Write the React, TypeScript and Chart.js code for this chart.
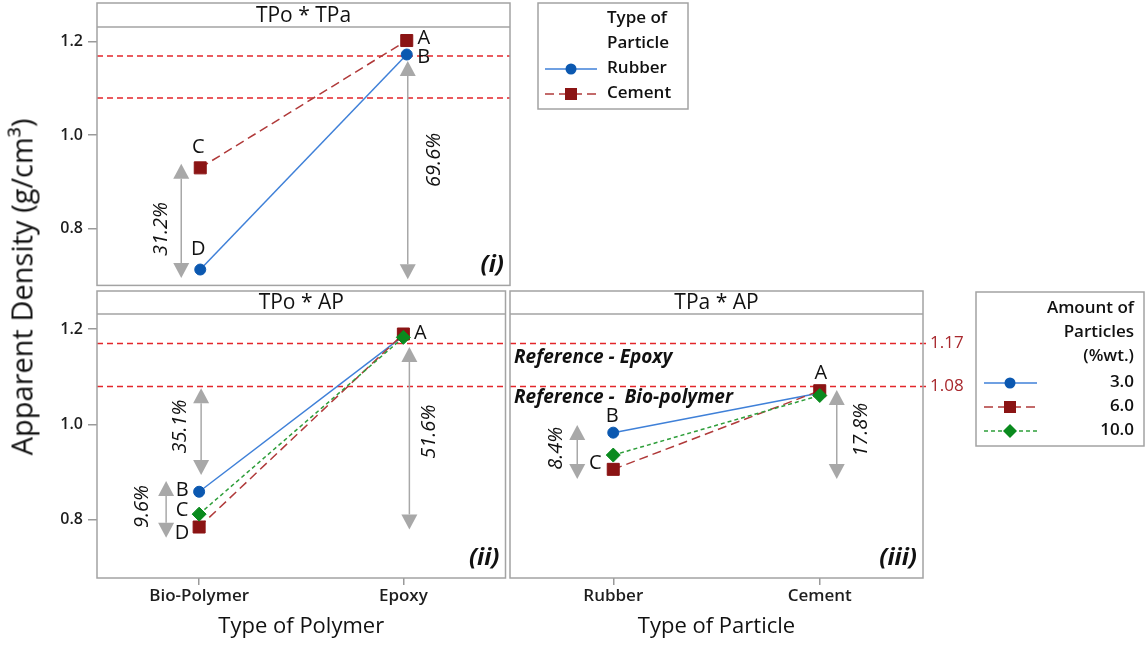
import React, { useEffect, useRef } from 'react';
import { Chart, registerables } from 'chart.js';

Chart.register(...registerables);

// ---------- data ----------
const polymerTypes = ['Bio-Polymer', 'Epoxy'];
const particleTypes = ['Rubber', 'Cement'];
const particleSeriesNames = ['Rubber', 'Cement'];
const amountSeriesNames = ['3.0', '6.0', '10.0'];

const rubberByPolymer = [0.712, 1.173];
const cementByPolymer = [0.930, 1.203];

const amount3ByPolymer = [0.859, 1.186];
const amount6ByPolymer = [0.785, 1.190];
const amount10ByPolymer = [0.812, 1.183];

const amount3ByParticle = [0.983, 1.066];
const amount6ByParticle = [0.906, 1.071];
const amount10ByParticle = [0.936, 1.061];

const referenceValues = [1.17, 1.08];
const referenceTickLabels = ['1.17', '1.08'];
const referenceNames = ['Reference - Epoxy', 'Reference -  Bio-polymer'];
const referenceNameValues = [1.141, 1.056];

const yTickValues = [0.8, 1.0, 1.2];
const yRange = [0.678, 1.232];

const panelTitles = ['TPo * TPa', 'TPo * AP', 'TPa * AP'];
const panelTags = ['(i)', '(ii)', '(iii)'];
const axisTitles = ['Type of Polymer', 'Type of Particle'];
const yAxisTitle = 'Apparent Density (g/cm³)';
const legendTitles1 = ['Type of', 'Particle'];
const legendTitles2 = ['Amount of', 'Particles', '(%wt.)'];

// annotations (category index, value range, label text)
const panel1Arrows = [
  { cat: 0, dx: -19, from: 0.939, to: 0.694, text: '31.2%', tdx: -39, ty: 0.799 },
  { cat: 1, dx: 1, from: 1.159, to: 0.691, text: '69.6%', tdx: 28, ty: 0.947 },
];
const panel1Letters = [
  { cat: 1, dx: 17, y: 1.208, text: 'A' },
  { cat: 1, dx: 17, y: 1.166, text: 'B' },
  { cat: 0, dx: -2, y: 0.975, text: 'C' },
  { cat: 0, dx: -2, y: 0.756, text: 'D' },
];
const panel2Arrows = [
  { cat: 0, dx: 2, from: 1.076, to: 0.894, text: '35.1%', tdx: -19, ty: 0.996 },
  { cat: 0, dx: -33, from: 0.8815, to: 0.7625, text: '9.6%', tdx: -57, ty: 0.828 },
  { cat: 1, dx: 6, from: 1.163, to: 0.780, text: '51.6%', tdx: 26, ty: 0.985 },
];
const panel2Letters = [
  { cat: 0, dx: -17, y: 0.863, text: 'B' },
  { cat: 0, dx: -17, y: 0.821, text: 'C' },
  { cat: 0, dx: -17, y: 0.772, text: 'D' },
  { cat: 1, dx: 17, y: 1.192, text: 'A' },
];
const panel3Arrows = [
  { cat: 0, dx: -36, from: 0.999, to: 0.886, text: '8.4%', tdx: -57, ty: 0.950 },
  { cat: 1, dx: 17, from: 1.0725, to: 0.886, text: '17.8%', tdx: 42, ty: 0.989 },
];
const panel3Letters = [
  { cat: 0, dx: -1, y: 1.0165, text: 'B' },
  { cat: 0, dx: -18, y: 0.919, text: 'C' },
  { cat: 1, dx: 1, y: 1.108, text: 'A' },
];

// ---------- styles ----------
const FONT = '"Open Sans", "Noto Sans", "DejaVu Sans", sans-serif';
const GRAY = '#a8a8a8';
const FRAME = '#a3a3a3';
const REF_LINE = '#e3262b';
const REF_TEXT = '#a8282d';
const INK = '#111111';

type SeriesStyle = { line: string; fill: string; shape: string; radius: number; dash: number[]; order: number };
const blueStyle: SeriesStyle = { line: '#3f80d8', fill: '#0b58b0', shape: 'circle', radius: 5.5, dash: [], order: 2 };
const redStyle: SeriesStyle = { line: '#b03a3a', fill: '#8b1414', shape: 'rect', radius: 8.5, dash: [9, 5], order: 1 };
const greenStyle: SeriesStyle = { line: '#2e9e3a', fill: '#0a8a1e', shape: 'rectRot', radius: 7, dash: [4, 3], order: 0 };

type Series = { name: string; values: number[]; style: SeriesStyle };
type Arrow = { cat: number; dx: number; from: number; to: number; text: string; tdx: number; ty: number };
type Letter = { cat: number; dx: number; y: number; text: string };
type LegendSpec = {
  box: [number, number, number, number];
  titles: string[];
  titleYs: number[];
  align: 'left' | 'right';
  textX: number;
  lineX: [number, number];
  markerX: number;
  itemYs: number[];
  items: Series[];
};
type PanelSpec = {
  categories: string[];
  series: Series[];
  title: string;
  tag: string;
  stripH: number;
  arrows: Arrow[];
  letters: Letter[];
  axisTitle?: string;
  showYAxis: boolean;
  showXAxis: boolean;
  showRefNames: boolean;
  showRefTicks: boolean;
  padding: { left: number; top: number; right: number; bottom: number };
  legend?: LegendSpec;
};

function drawMarker(ctx: CanvasRenderingContext2D, st: SeriesStyle, x: number, y: number) {
  ctx.fillStyle = st.fill;
  ctx.beginPath();
  if (st.shape === 'circle') {
    ctx.arc(x, y, st.radius, 0, Math.PI * 2);
  } else if (st.shape === 'rect') {
    const h = st.radius * Math.SQRT1_2;
    ctx.rect(x - h, y - h, 2 * h, 2 * h);
  } else {
    const r = st.radius;
    ctx.moveTo(x, y - r);
    ctx.lineTo(x + r, y);
    ctx.lineTo(x, y + r);
    ctx.lineTo(x - r, y);
    ctx.closePath();
  }
  ctx.fill();
}

function drawLegend(ctx: CanvasRenderingContext2D, lg: LegendSpec) {
  ctx.save();
  ctx.fillStyle = '#ffffff';
  ctx.fillRect(lg.box[0], lg.box[1], lg.box[2], lg.box[3]);
  ctx.strokeStyle = FRAME;
  ctx.lineWidth = 1.5;
  ctx.strokeRect(lg.box[0], lg.box[1], lg.box[2], lg.box[3]);
  ctx.font = `600 17px ${FONT}`;
  ctx.fillStyle = INK;
  ctx.textAlign = lg.align;
  ctx.textBaseline = 'middle';
  lg.titles.forEach((t, i) => ctx.fillText(t, lg.textX, lg.titleYs[i]));
  lg.items.forEach((s, i) => {
    const y = lg.itemYs[i];
    ctx.fillStyle = INK;
    ctx.fillText(s.name, lg.textX, y);
    ctx.strokeStyle = s.style.line;
    ctx.lineWidth = 1.5;
    ctx.setLineDash(s.style.dash);
    ctx.beginPath();
    ctx.moveTo(lg.lineX[0], y + 1);
    ctx.lineTo(lg.lineX[1], y + 1);
    ctx.stroke();
    ctx.setLineDash([]);
    drawMarker(ctx, s.style, lg.markerX, y + 1);
  });
  ctx.restore();
}

function panelPlugin(spec: PanelSpec) {
  return {
    id: 'panelDecor',
    beforeDatasetsDraw(chart: any) {
      const { ctx, chartArea: a } = chart;
      const xs = chart.scales.x;
      const ys = chart.scales.y;
      ctx.save();
      ctx.strokeStyle = REF_LINE;
      ctx.lineWidth = 1.5;
      ctx.setLineDash([6, 4]);
      referenceValues.forEach((v) => {
        const py = ys.getPixelForValue(v);
        ctx.beginPath();
        ctx.moveTo(a.left, py);
        ctx.lineTo(a.right + (spec.showRefTicks ? 3 : 0), py);
        ctx.stroke();
      });
      ctx.setLineDash([]);
      spec.arrows.forEach((ar) => {
        const x = xs.getPixelForValue(ar.cat) + ar.dx;
        const y1 = ys.getPixelForValue(ar.from);
        const y2 = ys.getPixelForValue(ar.to);
        const hh = 15;
        const hw = 8;
        ctx.strokeStyle = GRAY;
        ctx.fillStyle = GRAY;
        ctx.lineWidth = 1.5;
        ctx.beginPath();
        ctx.moveTo(x, y1 + hh);
        ctx.lineTo(x, y2 - hh);
        ctx.stroke();
        ctx.beginPath();
        ctx.moveTo(x, y1);
        ctx.lineTo(x - hw, y1 + hh);
        ctx.lineTo(x + hw, y1 + hh);
        ctx.closePath();
        ctx.fill();
        ctx.beginPath();
        ctx.moveTo(x, y2);
        ctx.lineTo(x - hw, y2 - hh);
        ctx.lineTo(x + hw, y2 - hh);
        ctx.closePath();
        ctx.fill();
        ctx.save();
        ctx.translate(xs.getPixelForValue(ar.cat) + ar.tdx, ys.getPixelForValue(ar.ty));
        ctx.rotate(-Math.PI / 2);
        ctx.font = `italic 20px ${FONT}`;
        ctx.fillStyle = INK;
        ctx.textAlign = 'center';
        ctx.textBaseline = 'middle';
        ctx.fillText(ar.text, 0, 0);
        ctx.restore();
      });
      ctx.restore();
    },
    afterDatasetsDraw(chart: any) {
      const { ctx, chartArea: a } = chart;
      const xs = chart.scales.x;
      const ys = chart.scales.y;
      ctx.save();
      // letters
      ctx.font = `20px ${FONT}`;
      ctx.fillStyle = INK;
      ctx.textAlign = 'center';
      ctx.textBaseline = 'middle';
      spec.letters.forEach((l) => {
        ctx.fillText(l.text, xs.getPixelForValue(l.cat) + l.dx, ys.getPixelForValue(l.y));
      });
      // reference names
      if (spec.showRefNames) {
        ctx.font = `italic bold 19px ${FONT}`;
        ctx.textAlign = 'left';
        referenceNames.forEach((n, i) => {
          ctx.fillText(n, a.left + 4, ys.getPixelForValue(referenceNameValues[i]));
        });
      }
      if (spec.showRefTicks) {
        ctx.font = `17px ${FONT}`;
        ctx.fillStyle = REF_TEXT;
        ctx.textAlign = 'left';
        referenceTickLabels.forEach((t, i) => {
          ctx.fillText(t, a.right + 7, ys.getPixelForValue(referenceValues[i]));
        });
      }
      // tag
      ctx.fillStyle = INK;
      ctx.font = `italic bold 24px ${FONT}`;
      ctx.textAlign = 'right';
      ctx.fillText(spec.tag, a.right - 6, a.bottom - 20);
      // frame + strip
      ctx.strokeStyle = FRAME;
      ctx.lineWidth = 1.5;
      ctx.strokeRect(a.left, a.top - spec.stripH, a.right - a.left, a.bottom - a.top + spec.stripH);
      ctx.beginPath();
      ctx.moveTo(a.left, a.top);
      ctx.lineTo(a.right, a.top);
      ctx.stroke();
      ctx.font = `21px ${FONT}`;
      ctx.fillStyle = INK;
      ctx.textAlign = 'center';
      ctx.fillText(spec.title, (a.left + a.right) / 2, a.top - spec.stripH / 2 + 1);
      // axis title
      if (spec.axisTitle) {
        ctx.font = `22px ${FONT}`;
        ctx.fillText(spec.axisTitle, (a.left + a.right) / 2, a.bottom + 49);
      }
      ctx.restore();
      if (spec.legend) drawLegend(ctx, spec.legend);
    },
  };
}

function buildConfig(spec: PanelSpec): any {
  const yTickFont = { family: FONT, size: 16, weight: '600' as const };
  const xTickFont = { family: FONT, size: 17, weight: '600' as const };
  return {
    type: 'line',
    data: {
      labels: spec.categories,
      datasets: spec.series.map((s) => ({
        label: s.name,
        data: s.values,
        borderColor: s.style.line,
        borderWidth: 1.5,
        borderDash: s.style.dash,
        pointStyle: s.style.shape,
        pointRadius: s.style.radius,
        pointBackgroundColor: s.style.fill,
        pointBorderColor: s.style.fill,
        pointBorderWidth: 1,
        fill: false,
        tension: 0,
        order: s.style.order,
      })),
    },
    options: {
      responsive: false,
      maintainAspectRatio: false,
      animation: false,
      events: [],
      layout: { padding: spec.padding },
      plugins: { legend: { display: false }, tooltip: { enabled: false }, title: { display: false } },
      scales: {
        x: {
          type: 'category',
          offset: true,
          display: spec.showXAxis,
          afterFit: (s: any) => {
            if (spec.showXAxis) s.height = 67;
          },
          grid: { offset: false, drawOnChartArea: false, drawTicks: true, tickLength: 7, color: '#9a9a9a', lineWidth: 1.5 },
          border: { display: false },
          ticks: { padding: 1, color: '#1e1e1e', font: xTickFont, maxRotation: 0, autoSkip: false },
        },
        y: {
          type: 'linear',
          min: yRange[0],
          max: yRange[1],
          display: spec.showYAxis,
          afterBuildTicks: (s: any) => {
            s.ticks = yTickValues.map((v) => ({ value: v }));
          },
          afterFit: (s: any) => {
            if (spec.showYAxis) s.width = 97;
          },
          grid: { drawOnChartArea: false, drawTicks: true, tickLength: 9, color: '#9a9a9a', lineWidth: 1.5 },
          border: { display: false },
          ticks: {
            padding: 5,
            color: '#1e1e1e',
            font: yTickFont,
            callback: (v: any) => Number(v).toFixed(1),
          },
        },
      },
    },
    plugins: [panelPlugin(spec)],
  };
}

export default function App() {
  const refA = useRef<HTMLCanvasElement>(null);
  const refB = useRef<HTMLCanvasElement>(null);
  const refC = useRef<HTMLCanvasElement>(null);

  useEffect(() => {
    const particleSeries: Series[] = [
      { name: particleSeriesNames[0], values: rubberByPolymer, style: blueStyle },
      { name: particleSeriesNames[1], values: cementByPolymer, style: redStyle },
    ];
    const amountPolymer: Series[] = [
      { name: amountSeriesNames[0], values: amount3ByPolymer, style: blueStyle },
      { name: amountSeriesNames[1], values: amount6ByPolymer, style: redStyle },
      { name: amountSeriesNames[2], values: amount10ByPolymer, style: greenStyle },
    ];
    const amountParticle: Series[] = [
      { name: amountSeriesNames[0], values: amount3ByParticle, style: blueStyle },
      { name: amountSeriesNames[1], values: amount6ByParticle, style: redStyle },
      { name: amountSeriesNames[2], values: amount10ByParticle, style: greenStyle },
    ];

    const charts: Chart[] = [];
    charts.push(
      new Chart(
        refA.current as HTMLCanvasElement,
        buildConfig({
          categories: polymerTypes,
          series: particleSeries,
          title: panelTitles[0],
          tag: panelTags[0],
          stripH: 24,
          arrows: panel1Arrows,
          letters: panel1Letters,
          showYAxis: true,
          showXAxis: false,
          showRefNames: false,
          showRefTicks: false,
          padding: { left: 0, top: 27, right: 190, bottom: 9 },
          legend: {
            box: [538, 3, 150, 106],
            titles: legendTitles1,
            titleYs: [18, 43],
            align: 'left',
            textX: 607,
            lineX: [545, 597],
            markerX: 571,
            itemYs: [68, 93],
            items: particleSeries,
          },
        })
      )
    );
    charts.push(
      new Chart(
        refB.current as HTMLCanvasElement,
        buildConfig({
          categories: polymerTypes,
          series: amountPolymer,
          title: panelTitles[1],
          tag: panelTags[1],
          stripH: 23,
          arrows: panel2Arrows,
          letters: panel2Letters,
          axisTitle: axisTitles[0],
          showYAxis: true,
          showXAxis: true,
          showRefNames: false,
          showRefTicks: false,
          padding: { left: 0, top: 28, right: 5, bottom: 0 },
        })
      )
    );
    charts.push(
      new Chart(
        refC.current as HTMLCanvasElement,
        buildConfig({
          categories: particleTypes,
          series: amountParticle,
          title: panelTitles[2],
          tag: panelTags[2],
          stripH: 23,
          arrows: panel3Arrows,
          letters: panel3Letters,
          axisTitle: axisTitles[1],
          showYAxis: false,
          showXAxis: true,
          showRefNames: true,
          showRefTicks: true,
          padding: { left: 10, top: 28, right: 222, bottom: 0 },
          legend: {
            box: [476, 6, 168, 154],
            titles: legendTitles2,
            titleYs: [22, 46, 70],
            align: 'right',
            textX: 634,
            lineX: [484, 537],
            markerX: 510,
            itemYs: [96, 120, 144],
            items: amountParticle,
          },
        })
      )
    );
    return () => charts.forEach((c) => c.destroy());
  }, []);

  return (
    <div
      style={{
        position: 'absolute',
        left: 0,
        top: 0,
        width: 1145,
        height: 645,
        background: '#ffffff',
        overflow: 'hidden',
      }}
    >
      <canvas ref={refA} width={700} height={300} style={{ position: 'absolute', left: 0, top: 0 }} />
      <canvas ref={refB} width={515} height={359} style={{ position: 'absolute', left: 0, top: 286 }} />
      <canvas ref={refC} width={645} height={359} style={{ position: 'absolute', left: 500, top: 286 }} />
      <div
        style={{
          position: 'absolute',
          left: 21,
          top: 287,
          transform: 'translate(-50%, -50%) rotate(-90deg)',
          whiteSpace: 'nowrap',
          font: `29px ${FONT}`,
          color: INK,
        }}
      >
        {yAxisTitle}
      </div>
    </div>
  );
}
